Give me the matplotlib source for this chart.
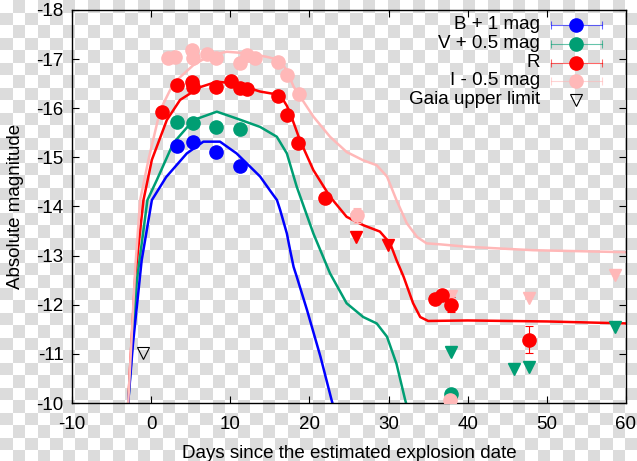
import numpy as np
import matplotlib
matplotlib.use("Agg")
import matplotlib.pyplot as plt

plt.rcParams['font.family'] = ['Liberation Sans', 'DejaVu Sans']
plt.rcParams['axes.unicode_minus'] = False

# photometry (days since explosion, absolute magnitude)
b_day = [3.3, 5.3, 8.2, 11.2]
b_mag = [-15.23, -15.32, -15.11, -14.82]
b_err = [0.04, 0.04, 0.04, 0.04]

v_day = [3.3, 5.3, 8.2, 11.2, 37.9]
v_mag = [-15.72, -15.70, -15.62, -15.57, -10.18]
v_err_lo = [0.04, 0.04, 0.04, 0.04, 0.1]
v_err_hi = [0.04, 0.04, 0.04, 0.04, 0.85]
v_lim_day = [37.9, 45.9, 47.8, 58.6]
v_lim_mag = [-11.03, -10.69, -10.74, -11.55]

r_day = [1.35, 3.25, 5.14, 5.27, 8.18, 10.08, 11.2, 12.1, 16.05, 17.15,
         18.6, 22.0, 35.9, 36.7, 37.9, 47.8]
r_mag = [-15.93, -16.47, -16.54, -16.44, -16.43, -16.55, -16.41, -16.39,
         -16.25, -15.86, -15.30, -14.18, -12.11, -12.20, -12.00, -11.29]
r_err = [0.04, 0.04, 0.04, 0.04, 0.04, 0.04, 0.04, 0.04,
         0.04, 0.04, 0.04, 0.05, 0.1, 0.08, 0.15, 0.28]
r_lim_day = [25.9, 29.9]
r_lim_mag = [-13.37, -13.21]

i_day = [2.19, 3.03, 5.22, 5.27, 7.08, 8.21, 11.25, 12.09, 13.14, 16.09,
         17.12, 18.64, 25.99, 37.8]
i_mag = [-17.03, -17.05, -17.19, -17.03, -17.10, -17.02, -16.92, -17.09,
         -17.03, -16.95, -16.68, -16.30, -13.82, -10.07]
i_err_lo = [0.04] * 12 + [0.15, 0.0]
i_err_hi = [0.04] * 12 + [0.15, 3.2]
i_lim_day = [37.87, 47.76, 58.6]
i_lim_mag = [-12.17, -12.13, -12.60]

gaia_day = [-1.05]
gaia_mag = [-11.02]

# model light curves
b_mod_day = [-2.9, -2.3, -1.2, 0.09, 1.9, 4.5, 6.6, 8.7, 10.8, 13.77, 15.0,
             15.9, 16.3, 17.15, 17.56, 18.0, 18.4, 19.7, 21.4, 22.8, 23.0]
b_mod_mag = [-10.0, -11.2, -12.9, -14.13, -14.6, -15.08, -15.32, -15.32,
             -15.08, -14.61, -14.33, -14.13, -13.93, -13.45, -13.11, -12.77,
             -12.57, -11.89, -10.94, -10.06, -9.95]

v_mod_day = [-2.9, -2.5, -1.8, -0.47, 0.72, 2.8, 5.35, 8.3, 10.83, 13.77,
             15.88, 17.15, 18.4, 20.5, 22.6, 24.7, 26.8, 28.5, 29.8, 31.0,
             32.1, 32.3]
v_mod_mag = [-10.0, -10.9, -12.5, -14.13, -14.54, -15.29, -15.76, -15.93,
             -15.79, -15.62, -15.42, -15.08, -14.40, -13.45, -12.64, -12.03,
             -11.75, -11.62, -11.35, -10.80, -10.06, -9.95]

r_mod_day = [-2.9, -2.6, -2.0, -0.97, 0.09, 1.98, 3.66, 6.19, 8.3, 10.4,
             13.77, 16.3, 17.15, 17.56, 18.8, 20.5, 22.6, 24.7, 26.8, 28.9,
             30.2, 31.0, 31.9, 33.1, 34.0, 35.0, 40.0, 50.0, 60.0]
r_mod_mag = [-10.0, -10.9, -12.6, -14.13, -14.95, -15.76, -16.17, -16.43,
             -16.54, -16.51, -16.34, -16.27, -16.05, -15.90, -15.35, -14.74,
             -14.20, -13.79, -13.62, -13.49, -13.25, -12.91, -12.57, -12.03,
             -11.75, -11.67, -11.68, -11.66, -11.62]

i_mod_day = [-2.9, -2.44, -2.0, -1.39, -0.34, 1.14, 2.82, 5.35, 7.46, 9.56,
             12.0, 14.5, 16.3, 17.2, 18.0, 20.5, 22.6, 24.7, 26.8, 28.5, 29.8,
             31.0, 32.3, 33.6, 34.8, 36.5, 39.9, 48.3, 60.0]
i_mod_mag = [-10.0, -11.42, -12.77, -14.13, -14.95, -15.96, -16.51, -16.88,
             -17.08, -17.15, -17.12, -17.05, -16.98, -16.75, -16.44, -15.83,
             -15.42, -15.11, -14.94, -14.84, -14.61, -14.13, -13.66, -13.38,
             -13.25, -13.23, -13.18, -13.11, -13.07]

c_b = '#0000ff'
c_v = '#009e73'
c_r = '#ff0000'
c_i = '#ffb8b8'

fig = plt.figure(figsize=(6.37, 4.61), dpi=100)

# transparency-style checkerboard backdrop
H, W = 461, 637
yy, xx = np.mgrid[0:H, 0:W]
chk = ((xx // 12.5 + yy // 12.5) % 2).astype(float)
bg = np.where(chk[..., None] > 0, 220 / 255, 1.0) * np.ones((H, W, 3))
fig.figimage(bg, xo=0, yo=0, origin='upper', zorder=-5)

ax = fig.add_axes([72 / 637, 1 - 403 / 461, 554 / 637, 393 / 461])
ax.set_zorder(2)
ax.patch.set_alpha(0)

ms_dot = 9.5
ms_tri = 8

# models
ax.plot(r_mod_day, r_mod_mag, color=c_r, lw=1.8, zorder=2)
ax.plot(v_mod_day, v_mod_mag, color=c_v, lw=1.8, zorder=2)
ax.plot(b_mod_day, b_mod_mag, color=c_b, lw=1.8, zorder=2)
ax.plot(i_mod_day, i_mod_mag, color=c_i, lw=1.8, zorder=2)

# data, drawn in B, V, R, I order so I sits on top
ekw = dict(fmt='o', ms=ms_dot, elinewidth=0.8, capsize=3, capthick=0.8, zorder=3)
ax.errorbar(b_day, b_mag, yerr=b_err, color=c_b, **ekw)
ax.errorbar(v_day, v_mag, yerr=[v_err_lo, v_err_hi], color=c_v, **ekw)
ax.plot(v_lim_day, v_lim_mag, 'v', color=c_v, ms=ms_tri, zorder=3)
ax.errorbar(r_day, r_mag, yerr=r_err, color=c_r, **ekw)
ax.plot(r_lim_day, r_lim_mag, 'v', color=c_r, ms=ms_tri, zorder=3)
ax.errorbar(i_day, i_mag, yerr=[i_err_lo, i_err_hi], color=c_i, **ekw)
ax.plot(i_lim_day, i_lim_mag, 'v', color=c_i, ms=ms_tri, zorder=3)
ax.plot(gaia_day, gaia_mag, 'v', mfc='none', mec='black', mew=0.8, ms=ms_tri, zorder=3)

fs = 13.5
ax.set_xlim(-10, 60)
ax.set_ylim(-10, -18)
ax.set_xticks(np.arange(-10, 61, 10))
ax.set_yticks(np.arange(-18, -9, 1))
ax.tick_params(direction='in', length=5, width=0.8, top=True, right=True,
               labelsize=fs, colors='black')
ax.tick_params(axis='x', pad=9)
ax.tick_params(axis='y', pad=6)
for s in ax.spines.values():
    s.set_linewidth(1.0)
ax.set_xlabel('Days since the estimated explosion date', fontsize=fs, labelpad=9)
ax.set_ylabel('Absolute magnitude', fontsize=fs, labelpad=9)

# legend, gnuplot style: text on the left, sample on the right
labels = ['B + 1 mag', 'V + 0.5 mag', 'R', 'I - 0.5 mag', 'Gaia upper limit']
cols = [c_b, c_v, c_r, c_i, 'black']
rows = [0.962, 0.914, 0.866, 0.820, 0.772]
for lab, c, yr in zip(labels, cols, rows):
    ax.text(0.845, yr, lab, transform=ax.transAxes, ha='right', va='center',
            fontsize=fs)
    if lab.startswith('Gaia'):
        ax.plot([0.910], [yr], 'v', mfc='none', mec='black', mew=0.8, ms=ms_tri,
                transform=ax.transAxes, clip_on=False)
    else:
        ax.plot([0.865, 0.957], [yr, yr], color=c, lw=0.8, alpha=0.6,
                transform=ax.transAxes, clip_on=False)
        ax.plot([0.865, 0.957], [yr, yr], '|', color=c, ms=6, mew=0.8, alpha=0.6,
                transform=ax.transAxes, clip_on=False)
        ax.plot([0.910], [yr], 'o', color=c, ms=ms_dot,
                transform=ax.transAxes, clip_on=False)

fig.savefig('out.png', dpi=100)
